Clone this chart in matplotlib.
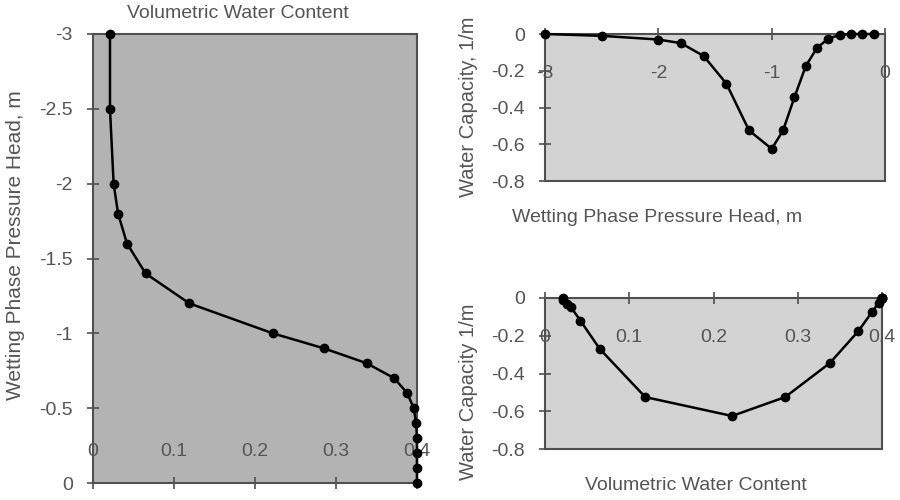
import numpy as np
import matplotlib.pyplot as plt

plt.rcParams['font.family'] = ['Liberation Sans', 'DejaVu Sans']

# ---------------------------------------------------------------------------
# Data
# ---------------------------------------------------------------------------
HEAD = [-3.0, -2.5, -2.0, -1.8, -1.6, -1.4, -1.2, -1.0, -0.9, -0.8,
        -0.7, -0.6, -0.5, -0.4, -0.3, -0.2, -0.1, 0.0]
THETA = [0.021, 0.021, 0.0255, 0.031, 0.042, 0.065, 0.119, 0.222, 0.285, 0.338,
         0.372, 0.388, 0.396, 0.399, 0.400, 0.400, 0.400, 0.400]
# water capacity, known down to head = -0.1
CAPACITY = [0.0, -0.01, -0.03, -0.05, -0.12, -0.27, -0.525, -0.625, -0.525, -0.345,
            -0.175, -0.075, -0.025, -0.005, 0.0, 0.0, 0.0]

HEAD_TICKS = [-3, -2.5, -2, -1.5, -1, -0.5, 0]
HEAD_TICKLABELS = ['-3', '-2.5', '-2', '-1.5', '-1', '-0.5', '0']
THETA_TICKS = [0, 0.1, 0.2, 0.3, 0.4]
THETA_TICKLABELS = ['0', '0.1', '0.2', '0.3', '0.4']
CAP_TICKS = [0, -0.2, -0.4, -0.6, -0.8]
CAP_TICKLABELS = ['0', '-0.2', '-0.4', '-0.6', '-0.8']
H_TICKS = [-3, -2, -1, 0]
H_TICKLABELS = ['-3', '-2', '-1', '0']

TEXT = '#555555'
EDGE = '#505050'
FS = 14


def style_axes(ax, face):
    ax.set_facecolor(face)
    for s in ax.spines.values():
        s.set_color(EDGE)
        s.set_linewidth(1.5)
    ax.tick_params(colors=EDGE, labelcolor=TEXT, labelsize=FS, width=1.2,
                   length=9, direction='inout')
    ax.tick_params(axis='y', pad=10)


def plot_line(ax, x, y):
    ax.plot(x, y, color='black', linewidth=1.8, marker='o', markersize=6,
            clip_on=False, zorder=5)


def label(x_px, y_px, text, size=FS, rotation=0):
    # place a text at pixel position measured from the top-left corner
    fig.text(x_px / 900, 1 - y_px / 500, text, fontsize=size, color=TEXT,
             ha='center', va='center', rotation=rotation)


fig = plt.figure(figsize=(9, 5), dpi=100)

# ---------------------------------------------------------------------------
# Left: retention curve
# ---------------------------------------------------------------------------
ax1 = fig.add_axes([0.1033, 0.034, 0.36, 0.898])
style_axes(ax1, '#b3b3b3')
plot_line(ax1, THETA, HEAD)
ax1.set_xlim(0, 0.4)
ax1.set_ylim(0, -3)
ax1.set_yticks(HEAD_TICKS, HEAD_TICKLABELS)
ax1.set_xticks(THETA_TICKS, THETA_TICKLABELS)
ax1.tick_params(axis='x', pad=-33)
label(238, 14, 'Volumetric Water Content')
label(16, 245, 'Wetting Phase Pressure Head, m', size=15, rotation=90)

# ---------------------------------------------------------------------------
# Top right: capacity vs pressure head
# ---------------------------------------------------------------------------
ax2 = fig.add_axes([0.6056, 0.638, 0.3778, 0.294])
style_axes(ax2, '#d3d3d3')
plot_line(ax2, HEAD[:len(CAPACITY)], CAPACITY)
ax2.set_xlim(-3, 0)
ax2.set_ylim(-0.8, 0)
ax2.set_yticks(CAP_TICKS, CAP_TICKLABELS)
ax2.set_xticks(H_TICKS, H_TICKLABELS)
ax2.tick_params(axis='x', top=True, bottom=False, labeltop=True, labelbottom=False,
                pad=-39)
label(468, 107, 'Water Capacity, 1/m', size=14.5, rotation=90)
label(657, 218, 'Wetting Phase Pressure Head, m')

# ---------------------------------------------------------------------------
# Bottom right: capacity vs water content
# ---------------------------------------------------------------------------
ax3 = fig.add_axes([0.6056, 0.102, 0.3744, 0.302])
style_axes(ax3, '#d3d3d3')
plot_line(ax3, THETA[:len(CAPACITY)], CAPACITY)
ax3.set_xlim(0, 0.4)
ax3.set_ylim(-0.8, 0)
ax3.set_yticks(CAP_TICKS, CAP_TICKLABELS)
ax3.set_xticks(THETA_TICKS, THETA_TICKLABELS)
ax3.tick_params(axis='x', top=True, bottom=False, labeltop=True, labelbottom=False,
                pad=-39)
label(468, 392, 'Water Capacity 1/m', size=14.5, rotation=90)
label(696, 485, 'Volumetric Water Content')

fig.savefig('out.png', dpi=100)
